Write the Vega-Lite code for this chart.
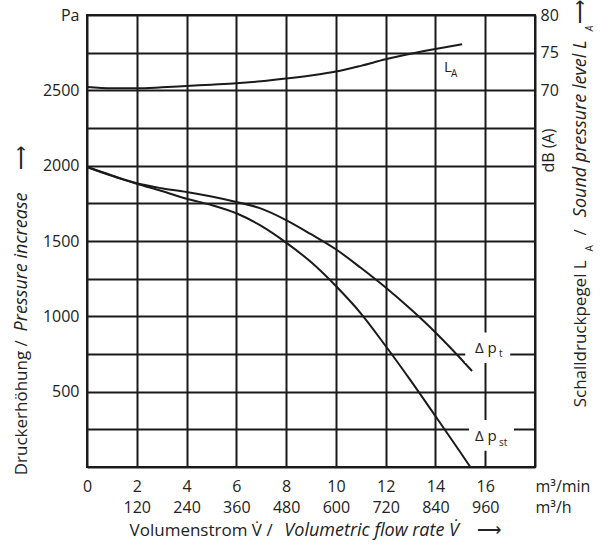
{
  "$schema": "https://vega.github.io/schema/vega-lite/v6.json",
  "width": 448,
  "height": 452,
  "autosize": {"type": "none"},
  "padding": {"left": 87, "top": 15, "right": 65, "bottom": 78},
  "background": "white",
  "config": {
    "view": {"stroke": "#1a1a1a", "strokeWidth": 2},
    "font": "Open Sans",
    "axis": {
      "labelFont": "Open Sans",
      "labelFontSize": 16,
      "labelColor": "#222222",
      "ticks": false,
      "domain": false,
      "gridColor": "#1a1a1a",
      "gridWidth": 2,
      "gridOpacity": 1,
      "titleFont": "Open Sans",
      "titleFontSize": 17,
      "titleFontWeight": "normal",
      "titleColor": "#222222"
    }
  },
  "datasets": {
    "dp": [
      {"s": "pt", "x": 0, "y": 1991}, {"s": "pt", "x": 1, "y": 1935}, {"s": "pt", "x": 2, "y": 1883},
      {"s": "pt", "x": 3, "y": 1850}, {"s": "pt", "x": 4, "y": 1825}, {"s": "pt", "x": 5, "y": 1795},
      {"s": "pt", "x": 6, "y": 1759}, {"s": "pt", "x": 7, "y": 1715}, {"s": "pt", "x": 8, "y": 1639},
      {"s": "pt", "x": 9, "y": 1545}, {"s": "pt", "x": 10, "y": 1445}, {"s": "pt", "x": 11, "y": 1322},
      {"s": "pt", "x": 12, "y": 1191}, {"s": "pt", "x": 13, "y": 1048}, {"s": "pt", "x": 14, "y": 893},
      {"s": "pt", "x": 15, "y": 722}, {"s": "pt", "x": 15.47, "y": 637},
      {"s": "pst", "x": 0, "y": 1991}, {"s": "pst", "x": 1, "y": 1932}, {"s": "pst", "x": 2, "y": 1880},
      {"s": "pst", "x": 3, "y": 1832}, {"s": "pst", "x": 4, "y": 1781}, {"s": "pst", "x": 5, "y": 1739},
      {"s": "pst", "x": 6, "y": 1684}, {"s": "pst", "x": 7, "y": 1600}, {"s": "pst", "x": 8, "y": 1489},
      {"s": "pst", "x": 9, "y": 1360}, {"s": "pst", "x": 10, "y": 1201}, {"s": "pst", "x": 11, "y": 1020},
      {"s": "pst", "x": 12, "y": 803}, {"s": "pst", "x": 13, "y": 575}, {"s": "pst", "x": 14, "y": 338},
      {"s": "pst", "x": 15, "y": 98}, {"s": "pst", "x": 15.4, "y": 0}
    ],
    "la": [
      {"x": 0, "db": 70.44}, {"x": 1, "db": 70.27}, {"x": 2, "db": 70.27}, {"x": 3, "db": 70.4},
      {"x": 4, "db": 70.58}, {"x": 5, "db": 70.75}, {"x": 6, "db": 70.93}, {"x": 7, "db": 71.2},
      {"x": 8, "db": 71.56}, {"x": 9, "db": 71.98}, {"x": 10, "db": 72.49}, {"x": 11, "db": 73.25},
      {"x": 12, "db": 74.12}, {"x": 13, "db": 74.85}, {"x": 14, "db": 75.49}, {"x": 15.07, "db": 76.11}
    ],
    "boxes": [
      {"x": 16.1, "y": 791},
      {"x": 16.25, "y": 210}
    ],
    "notes": [
      {"k": "plot", "t": "L", "x": 14.34, "y": 2620},
      {"k": "plot", "t": "Δ p", "x": 15.59, "y": 755},
      {"k": "plot", "t": "Δ p", "x": 15.59, "y": 170},
      {"k": "sub", "t": "A", "x": 14.62, "y": 2587},
      {"k": "sub", "t": "t", "x": 16.55, "y": 727},
      {"k": "sub", "t": "st", "x": 16.55, "y": 139},
      {"k": "xt", "t": "Volumenstrom V\u0307 /", "x": 1.71, "y": -458},
      {"k": "xti", "t": "Volumetric flow rate V\u0307", "x": 7.93, "y": -458},
      {"k": "xt", "t": "⟶", "x": 15.67, "y": -458},
      {"k": "yt", "t": "Druckerhöhung /", "x": -2.42, "y": -55},
      {"k": "yti", "t": "Pressure increase", "x": -2.42, "y": 900},
      {"k": "yt", "t": "⟶", "x": -2.42, "y": 1974},
      {"k": "yt", "t": "Schalldruckpegel L", "x": 20.04, "y": 396},
      {"k": "ysub", "t": "A", "x": 20.32, "y": 1431},
      {"k": "yt", "t": "/", "x": 20.04, "y": 1537},
      {"k": "yti", "t": "Sound pressure level L", "x": 20.04, "y": 1658},
      {"k": "ysubi", "t": "A", "x": 20.32, "y": 2892},
      {"k": "yt", "t": "⟶", "x": 20.04, "y": 2938}
    ]
  },
  "encoding": {
    "x": {
      "field": "x", "type": "quantitative",
      "scale": {"domain": [0, 18], "nice": false},
      "axis": {
        "values": [0, 2, 4, 6, 8, 10, 12, 14, 16, 18],
        "grid": true,
        "title": null,
        "format": "d",
        "labelPadding": 11,
        "labelBaseline": "top",
        "labelLineHeight": 21,
        "labelOverlap": false,
        "labelFlush": false,
        "labelBound": false,
        "labelExpr": "datum.value == 0 ? '0' : datum.value == 18 ? ['m³/min', 'm³/h'] : [datum.label, format(datum.value * 60, 'd')]",
        "labelAlign": {"condition": {"test": "datum.value == 18", "value": "left"}, "value": "center"}
      }
    }
  },
  "layer": [
    {
      "encoding": {
        "y": {
          "field": "y", "type": "quantitative",
          "scale": {"domain": [0, 3000], "nice": false},
          "axis": {
            "values": [0, 250, 500, 750, 1000, 1250, 1500, 1750, 2000, 2250, 2500, 2750, 3000],
            "grid": true,
            "title": null,
            "format": "d",
            "labelPadding": 8,
            "labelOverlap": false,
            "labelBound": false,
            "labelFlush": false,
            "labelExpr": "datum.value == 3000 ? 'Pa' : (datum.value > 0 && datum.value % 500 == 0) ? datum.label : ''"
          }
        }
      },
      "layer": [
        {
          "data": {"name": "dp"},
          "mark": {"type": "line", "interpolate": "monotone", "color": "#1a1a1a", "strokeWidth": 2},
          "encoding": {"detail": {"field": "s"}}
        },
        {
          "data": {"name": "boxes"},
          "mark": {"type": "point", "shape": "M-1,-0.68H1V0.68H-1Z", "filled": true, "color": "white", "opacity": 1, "size": 2025, "strokeWidth": 0}
        },
        {
          "data": {"name": "notes"},
          "transform": [{"filter": "datum.k == 'plot'"}],
          "mark": {"type": "text", "font": "Open Sans", "fontSize": 15, "color": "#222222", "align": "left", "baseline": "alphabetic"},
          "encoding": {"text": {"field": "t"}}
        },
        {
          "data": {"name": "notes"},
          "transform": [{"filter": "datum.k == 'sub'"}],
          "mark": {"type": "text", "font": "Open Sans", "fontSize": 10, "color": "#222222", "align": "left", "baseline": "alphabetic"},
          "encoding": {"text": {"field": "t"}}
        },
        {
          "data": {"name": "notes"},
          "transform": [{"filter": "datum.k == 'xt'"}],
          "mark": {"type": "text", "font": "Open Sans", "fontSize": 17, "color": "#222222", "align": "left", "baseline": "alphabetic"},
          "encoding": {"text": {"field": "t"}}
        },
        {
          "data": {"name": "notes"},
          "transform": [{"filter": "datum.k == 'xti'"}],
          "mark": {"type": "text", "font": "Open Sans", "fontSize": 18, "fontStyle": "italic", "color": "#222222", "align": "left", "baseline": "alphabetic"},
          "encoding": {"text": {"field": "t"}}
        },
        {
          "data": {"name": "notes"},
          "transform": [{"filter": "datum.k == 'yt'"}],
          "mark": {"type": "text", "font": "Open Sans", "fontSize": 17, "angle": 270, "color": "#222222", "align": "left", "baseline": "alphabetic"},
          "encoding": {"text": {"field": "t"}}
        },
        {
          "data": {"name": "notes"},
          "transform": [{"filter": "datum.k == 'yti'"}],
          "mark": {"type": "text", "font": "Open Sans", "fontSize": 18, "fontStyle": "italic", "angle": 270, "color": "#222222", "align": "left", "baseline": "alphabetic"},
          "encoding": {"text": {"field": "t"}}
        },
        {
          "data": {"name": "notes"},
          "transform": [{"filter": "datum.k == 'ysub'"}],
          "mark": {"type": "text", "font": "Open Sans", "fontSize": 10, "angle": 270, "color": "#222222", "align": "left", "baseline": "alphabetic"},
          "encoding": {"text": {"field": "t"}}
        },
        {
          "data": {"name": "notes"},
          "transform": [{"filter": "datum.k == 'ysubi'"}],
          "mark": {"type": "text", "font": "Open Sans", "fontSize": 10, "fontStyle": "italic", "angle": 270, "color": "#222222", "align": "left", "baseline": "alphabetic"},
          "encoding": {"text": {"field": "t"}}
        }
      ]
    },
    {
      "data": {"name": "la"},
      "mark": {"type": "line", "interpolate": "monotone", "color": "#1a1a1a", "strokeWidth": 2},
      "encoding": {
        "y": {
          "field": "db", "type": "quantitative",
          "scale": {"domain": [20, 80], "nice": false, "zero": false},
          "axis": {
            "orient": "right",
            "values": [70, 75, 80],
            "grid": false,
            "format": "d",
            "labelPadding": 5,
            "labelBound": false,
            "labelFlush": false,
            "labelOverlap": false,
            "title": "dB (A)",
            "titleFontSize": 16,
            "titleAngle": 270,
            "titleX": 18,
            "titleY": 135,
            "titleAlign": "center",
            "titleBaseline": "alphabetic"
          }
        }
      }
    }
  ],
  "resolve": {"scale": {"y": "independent"}}
}
